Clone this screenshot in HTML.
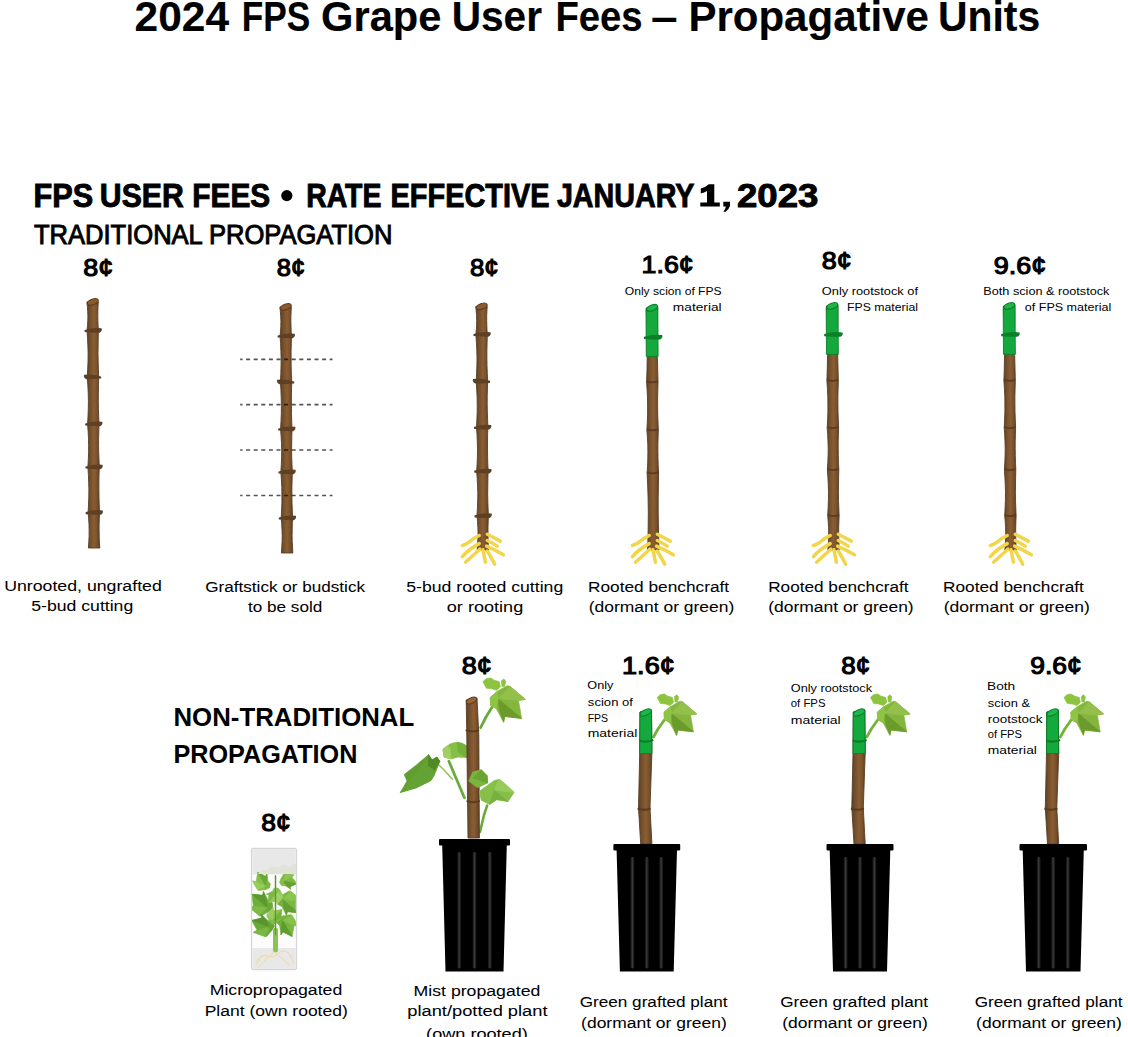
<!DOCTYPE html>
<html><head><meta charset="utf-8"><style>
html,body{margin:0;padding:0;background:#fff;}
svg{display:block;font-family:"Liberation Sans", sans-serif;}
</style></head><body>
<svg width="1128" height="1037" viewBox="0 0 1128 1037">
<defs><linearGradient id="bg" x1="0" y1="0" x2="1" y2="0"><stop offset="0" stop-color="#5c4027"/><stop offset="0.25" stop-color="#72502e"/><stop offset="0.55" stop-color="#8c5d30"/><stop offset="0.8" stop-color="#76512e"/><stop offset="1" stop-color="#5a3d24"/></linearGradient><linearGradient id="rib" x1="0" y1="0" x2="1" y2="0"><stop offset="0" stop-color="#000"/><stop offset="0.5" stop-color="#3a3a3a"/><stop offset="1" stop-color="#000"/></linearGradient></defs>
<path d="M98.3,302.0 L98.0,306.8 L97.9,311.5 L97.8,316.2 L97.9,321.0 L98.1,325.8 L98.4,330.5 L98.2,338.2 L98.1,346.0 L98.0,353.8 L98.2,361.5 L98.4,369.2 L98.7,377.0 L98.5,384.8 L98.4,392.7 L98.3,400.5 L98.4,408.3 L98.7,416.2 L99.0,424.0 L98.8,431.2 L98.6,438.3 L98.6,445.5 L98.7,452.7 L99.0,459.8 L99.3,467.0 L99.0,474.6 L98.9,482.2 L98.9,489.8 L99.0,497.4 L99.2,505.0 L99.5,512.6 L99.3,518.5 L99.1,524.4 L99.1,530.3 L99.2,536.2 L99.4,542.1 L99.8,548.0 L88.4,548.0 L88.8,542.1 L89.1,536.2 L89.1,530.3 L89.0,524.4 L88.6,518.5 L88.1,512.6 L88.5,505.0 L88.8,497.4 L88.9,489.8 L88.7,482.2 L88.4,474.6 L87.9,467.0 L88.3,459.8 L88.6,452.7 L88.6,445.5 L88.5,438.3 L88.1,431.2 L87.6,424.0 L88.0,416.2 L88.3,408.3 L88.4,400.5 L88.2,392.7 L87.8,384.8 L87.3,377.0 L87.7,369.2 L88.0,361.5 L88.1,353.8 L87.9,346.0 L87.5,338.2 L87.0,330.5 L87.5,325.8 L87.8,321.0 L87.9,316.2 L87.7,311.5 L87.4,306.8 L86.9,302.0Z" fill="url(#bg)" stroke="#5a3d24" stroke-width="0.9" stroke-linejoin="round"/>
<path d="M84.8,329.9 Q92.7,327.3 101.6,328.3 Q102.6,331.1 99.6,332.7 Q92.7,332.7 84.8,332.1 Q84.0,331.0 84.8,329.9Z" fill="#5e4026"/>
<path d="M100.9,376.4 Q93.0,373.8 84.1,374.8 Q83.1,377.6 86.1,379.2 Q93.0,379.2 100.9,378.6 Q101.7,377.5 100.9,376.4Z" fill="#5e4026"/>
<path d="M85.4,423.4 Q93.3,420.8 102.2,421.8 Q103.2,424.6 100.2,426.2 Q93.3,426.2 85.4,425.6 Q84.6,424.5 85.4,423.4Z" fill="#5e4026"/>
<path d="M85.7,466.4 Q93.6,463.8 102.5,464.8 Q103.5,467.6 100.5,469.2 Q93.6,469.2 85.7,468.6 Q84.9,467.5 85.7,466.4Z" fill="#5e4026"/>
<path d="M85.9,512.0 Q93.8,509.4 102.7,510.4 Q103.7,513.2 100.7,514.8 Q93.8,514.8 85.9,514.2 Q85.1,513.1 85.9,512.0Z" fill="#5e4026"/>
<ellipse cx="92.8" cy="302.0" rx="5.7" ry="2.8" transform="rotate(-20 92.6 302.0)" fill="#8e5a2b" stroke="#5a3d24" stroke-width="1.1"/>
<path d="M291.3,307.0 L291.1,311.8 L290.9,316.7 L290.9,321.5 L291.0,326.3 L291.2,331.2 L291.5,336.0 L291.3,343.7 L291.1,351.3 L291.1,359.0 L291.2,366.7 L291.4,374.3 L291.8,382.0 L291.5,389.8 L291.4,397.7 L291.4,405.5 L291.5,413.3 L291.7,421.2 L292.0,429.0 L291.8,436.2 L291.7,443.3 L291.6,450.5 L291.7,457.7 L292.0,464.8 L292.3,472.0 L292.1,479.7 L291.9,487.3 L291.9,495.0 L292.0,502.7 L292.3,510.3 L292.6,518.0 L292.3,523.8 L292.2,529.7 L292.1,535.5 L292.2,541.3 L292.5,547.2 L292.8,553.0 L281.4,553.0 L281.8,547.2 L282.1,541.3 L282.2,535.5 L282.0,529.7 L281.7,523.8 L281.2,518.0 L281.6,510.3 L281.9,502.7 L281.9,495.0 L281.8,487.3 L281.4,479.7 L280.9,472.0 L281.3,464.8 L281.6,457.7 L281.7,450.5 L281.5,443.3 L281.1,436.2 L280.6,429.0 L281.0,421.2 L281.3,413.3 L281.4,405.5 L281.2,397.7 L280.9,389.8 L280.4,382.0 L280.8,374.3 L281.0,366.7 L281.1,359.0 L280.9,351.3 L280.6,343.7 L280.1,336.0 L280.5,331.2 L280.8,326.3 L280.9,321.5 L280.7,316.7 L280.4,311.8 L279.9,307.0Z" fill="url(#bg)" stroke="#5a3d24" stroke-width="0.9" stroke-linejoin="round"/>
<path d="M277.9,335.4 Q285.8,332.8 294.7,333.8 Q295.7,336.6 292.7,338.2 Q285.8,338.2 277.9,337.6 Q277.1,336.5 277.9,335.4Z" fill="#5e4026"/>
<path d="M294.0,381.4 Q286.1,378.8 277.2,379.8 Q276.2,382.6 279.2,384.2 Q286.1,384.2 294.0,383.6 Q294.8,382.5 294.0,381.4Z" fill="#5e4026"/>
<path d="M278.4,428.4 Q286.3,425.8 295.2,426.8 Q296.2,429.6 293.2,431.2 Q286.3,431.2 278.4,430.6 Q277.6,429.5 278.4,428.4Z" fill="#5e4026"/>
<path d="M278.7,471.4 Q286.6,468.8 295.5,469.8 Q296.5,472.6 293.5,474.2 Q286.6,474.2 278.7,473.6 Q277.9,472.5 278.7,471.4Z" fill="#5e4026"/>
<path d="M279.0,517.4 Q286.9,514.8 295.8,515.8 Q296.8,518.6 293.8,520.2 Q286.9,520.2 279.0,519.6 Q278.2,518.5 279.0,517.4Z" fill="#5e4026"/>
<ellipse cx="285.8" cy="307.0" rx="5.7" ry="2.8" transform="rotate(-20 285.6 307.0)" fill="#8e5a2b" stroke="#5a3d24" stroke-width="1.1"/>
<path d="M487.2,306.5 L486.9,311.2 L486.7,315.8 L486.7,320.5 L486.8,325.2 L487.0,329.8 L487.3,334.5 L487.1,342.3 L486.9,350.1 L486.9,357.9 L487.0,365.7 L487.3,373.5 L487.6,381.3 L487.4,389.0 L487.2,396.6 L487.2,404.3 L487.3,412.0 L487.6,419.6 L487.9,427.3 L487.6,434.6 L487.5,441.9 L487.5,449.2 L487.6,456.6 L487.8,463.9 L488.1,471.2 L487.9,478.6 L487.8,486.1 L487.7,493.5 L487.8,500.9 L488.1,508.4 L488.4,515.8 L488.2,521.5 L488.0,527.2 L488.0,532.9 L488.1,538.6 L488.3,544.3 L488.6,550.0 L477.2,550.0 L477.6,544.3 L477.9,538.6 L478.0,532.9 L477.9,527.2 L477.5,521.5 L477.0,515.8 L477.4,508.4 L477.7,500.9 L477.8,493.5 L477.6,486.1 L477.2,478.6 L476.7,471.2 L477.1,463.9 L477.4,456.6 L477.5,449.2 L477.3,441.9 L477.0,434.6 L476.5,427.3 L476.9,419.6 L477.2,412.0 L477.2,404.3 L477.1,396.6 L476.7,389.0 L476.2,381.3 L476.6,373.5 L476.9,365.7 L477.0,357.9 L476.8,350.1 L476.4,342.3 L475.9,334.5 L476.3,329.8 L476.6,325.2 L476.7,320.5 L476.6,315.8 L476.2,311.2 L475.8,306.5Z" fill="url(#bg)" stroke="#5a3d24" stroke-width="0.9" stroke-linejoin="round"/>
<path d="M473.7,333.9 Q481.6,331.3 490.5,332.3 Q491.5,335.1 488.5,336.7 Q481.6,336.7 473.7,336.1 Q472.9,335.0 473.7,333.9Z" fill="#5e4026"/>
<path d="M489.8,380.7 Q481.9,378.1 473.0,379.1 Q472.0,381.9 475.0,383.5 Q481.9,383.5 489.8,382.9 Q490.6,381.8 489.8,380.7Z" fill="#5e4026"/>
<path d="M474.3,426.7 Q482.2,424.1 491.1,425.1 Q492.1,427.9 489.1,429.5 Q482.2,429.5 474.3,428.9 Q473.5,427.8 474.3,426.7Z" fill="#5e4026"/>
<path d="M474.5,470.6 Q482.4,468.0 491.3,469.0 Q492.3,471.8 489.3,473.4 Q482.4,473.4 474.5,472.8 Q473.7,471.7 474.5,470.6Z" fill="#5e4026"/>
<path d="M474.8,515.2 Q482.7,512.6 491.6,513.6 Q492.6,516.4 489.6,518.0 Q482.7,518.0 474.8,517.4 Q474.0,516.3 474.8,515.2Z" fill="#5e4026"/>
<ellipse cx="481.7" cy="306.5" rx="5.7" ry="2.8" transform="rotate(-20 481.5 306.5)" fill="#8e5a2b" stroke="#5a3d24" stroke-width="1.1"/>
<path d="M657.6,307.9 L657.4,320.2 L657.2,332.6 L657.2,344.9 L657.4,357.3 L657.7,369.6 L658.0,382.0 L657.8,390.0 L657.6,398.0 L657.6,406.0 L657.7,414.0 L658.0,422.0 L658.3,430.0 L658.1,437.2 L657.9,444.3 L657.9,451.5 L658.0,458.7 L658.2,465.8 L658.6,473.0 L658.4,485.8 L658.2,498.7 L658.2,511.5 L658.4,524.3 L658.7,537.2 L659.0,550.0 L647.6,550.0 L648.0,537.2 L648.2,524.3 L648.3,511.5 L648.1,498.7 L647.7,485.8 L647.1,473.0 L647.6,465.8 L647.8,458.7 L647.9,451.5 L647.8,444.3 L647.4,437.2 L646.9,430.0 L647.3,422.0 L647.6,414.0 L647.6,406.0 L647.5,398.0 L647.1,390.0 L646.6,382.0 L647.0,369.6 L647.2,357.3 L647.3,344.9 L647.1,332.6 L646.7,320.2 L646.2,307.9Z" fill="url(#bg)" stroke="#5a3d24" stroke-width="0.9" stroke-linejoin="round"/>
<path d="M646.6,381.2 Q652.3,383.5 658.0,381.2" stroke="#5a3d24" stroke-width="1.8" fill="none"/>
<path d="M646.9,429.2 Q652.6,431.5 658.3,429.2" stroke="#5a3d24" stroke-width="1.8" fill="none"/>
<path d="M647.1,472.2 Q652.9,474.5 658.6,472.2" stroke="#5a3d24" stroke-width="1.8" fill="none"/>
<path d="M646.0,309.4 L657.8,306.4 L658.1,356.4 L646.3,356.4Z" fill="#14a93c" stroke="#0b7f2a" stroke-width="0.9"/>
<path d="M644.1,336.7 Q652.0,334.1 662.2,335.1 Q663.2,337.9 660.2,339.5 Q652.0,339.5 644.1,338.9 Q643.3,337.8 644.1,336.7Z" fill="#0b7f2a"/>
<ellipse cx="652.1" cy="307.9" rx="5.7" ry="2.8" transform="rotate(-20 651.9 307.9)" fill="#1cb548" stroke="#0b7f2a" stroke-width="1.1"/>
<path d="M837.8,306.0 L837.7,318.4 L837.5,330.8 L837.5,343.2 L837.7,355.7 L838.0,368.1 L838.3,380.5 L838.1,388.4 L837.9,396.3 L837.9,404.1 L838.0,412.0 L838.3,419.9 L838.6,427.8 L838.4,434.8 L838.2,441.8 L838.2,448.8 L838.3,455.7 L838.5,462.7 L838.8,469.7 L838.6,477.4 L838.5,485.0 L838.4,492.7 L838.5,500.4 L838.8,508.0 L839.1,515.7 L838.9,521.4 L838.7,527.1 L838.7,532.9 L838.8,538.6 L839.0,544.3 L839.3,550.0 L827.9,550.0 L828.3,544.3 L828.6,538.6 L828.7,532.9 L828.6,527.1 L828.2,521.4 L827.7,515.7 L828.1,508.0 L828.4,500.4 L828.5,492.7 L828.3,485.0 L827.9,477.4 L827.4,469.7 L827.8,462.7 L828.1,455.7 L828.2,448.8 L828.0,441.8 L827.7,434.8 L827.2,427.8 L827.6,419.9 L827.9,412.0 L827.9,404.1 L827.8,396.3 L827.4,388.4 L826.9,380.5 L827.3,368.1 L827.5,355.7 L827.6,343.2 L827.4,330.8 L827.0,318.4 L826.4,306.0Z" fill="url(#bg)" stroke="#5a3d24" stroke-width="0.9" stroke-linejoin="round"/>
<path d="M826.9,379.7 Q832.6,382.0 838.3,379.7" stroke="#5a3d24" stroke-width="1.8" fill="none"/>
<path d="M827.2,427.0 Q832.9,429.3 838.6,427.0" stroke="#5a3d24" stroke-width="1.8" fill="none"/>
<path d="M827.4,468.9 Q833.1,471.2 838.8,468.9" stroke="#5a3d24" stroke-width="1.8" fill="none"/>
<path d="M827.7,514.9 Q833.4,517.2 839.1,514.9" stroke="#5a3d24" stroke-width="1.8" fill="none"/>
<path d="M826.2,307.5 L838.0,304.5 L838.3,354.3 L826.5,354.3Z" fill="#14a93c" stroke="#0b7f2a" stroke-width="0.9"/>
<path d="M824.4,334.0 Q832.3,331.4 842.5,332.4 Q843.5,335.2 840.5,336.8 Q832.3,336.8 824.4,336.2 Q823.6,335.1 824.4,334.0Z" fill="#0b7f2a"/>
<ellipse cx="832.3" cy="306.0" rx="5.7" ry="2.8" transform="rotate(-20 832.1 306.0)" fill="#1cb548" stroke="#0b7f2a" stroke-width="1.1"/>
<path d="M1014.8,306.0 L1014.7,318.4 L1014.5,330.8 L1014.5,343.2 L1014.7,355.7 L1015.0,368.1 L1015.3,380.5 L1015.1,388.4 L1014.9,396.3 L1014.9,404.1 L1015.0,412.0 L1015.3,419.9 L1015.6,427.8 L1015.4,434.8 L1015.2,441.8 L1015.2,448.8 L1015.3,455.7 L1015.5,462.7 L1015.8,469.7 L1015.6,477.4 L1015.5,485.0 L1015.4,492.7 L1015.5,500.4 L1015.8,508.0 L1016.1,515.7 L1015.9,521.4 L1015.7,527.1 L1015.7,532.9 L1015.8,538.6 L1016.0,544.3 L1016.3,550.0 L1004.9,550.0 L1005.3,544.3 L1005.6,538.6 L1005.7,532.9 L1005.6,527.1 L1005.2,521.4 L1004.7,515.7 L1005.1,508.0 L1005.4,500.4 L1005.5,492.7 L1005.3,485.0 L1004.9,477.4 L1004.4,469.7 L1004.8,462.7 L1005.1,455.7 L1005.2,448.8 L1005.0,441.8 L1004.7,434.8 L1004.2,427.8 L1004.6,419.9 L1004.9,412.0 L1004.9,404.1 L1004.8,396.3 L1004.4,388.4 L1003.9,380.5 L1004.3,368.1 L1004.5,355.7 L1004.6,343.2 L1004.4,330.8 L1004.0,318.4 L1003.4,306.0Z" fill="url(#bg)" stroke="#5a3d24" stroke-width="0.9" stroke-linejoin="round"/>
<path d="M1003.9,379.7 Q1009.6,382.0 1015.3,379.7" stroke="#5a3d24" stroke-width="1.8" fill="none"/>
<path d="M1004.2,427.0 Q1009.9,429.3 1015.6,427.0" stroke="#5a3d24" stroke-width="1.8" fill="none"/>
<path d="M1004.4,468.9 Q1010.1,471.2 1015.8,468.9" stroke="#5a3d24" stroke-width="1.8" fill="none"/>
<path d="M1004.7,514.9 Q1010.4,517.2 1016.1,514.9" stroke="#5a3d24" stroke-width="1.8" fill="none"/>
<path d="M1003.2,307.5 L1015.0,304.5 L1015.3,354.3 L1003.5,354.3Z" fill="#14a93c" stroke="#0b7f2a" stroke-width="0.9"/>
<path d="M1001.4,334.0 Q1009.3,331.4 1019.5,332.4 Q1020.5,335.2 1017.5,336.8 Q1009.3,336.8 1001.4,336.2 Q1000.6,335.1 1001.4,334.0Z" fill="#0b7f2a"/>
<ellipse cx="1009.3" cy="306.0" rx="5.7" ry="2.8" transform="rotate(-20 1009.1 306.0)" fill="#1cb548" stroke="#0b7f2a" stroke-width="1.1"/>
<path d="M479.2,535.5 Q473.6,538.0 470.5,541.0 T462.4,545.5" stroke="#f2d54b" stroke-width="3.5" fill="none" stroke-linecap="round"/>
<path d="M479.2,543.6 Q468.6,549.2 462.4,556.6" stroke="#f2d54b" stroke-width="3.5" fill="none" stroke-linecap="round"/>
<path d="M479.8,549.2 Q473.5,555.0 465.5,562.2" stroke="#f2d54b" stroke-width="3.5" fill="none" stroke-linecap="round"/>
<path d="M483.0,549.8 Q484.3,556.0 485.4,562.2" stroke="#f2d54b" stroke-width="3.5" fill="none" stroke-linecap="round"/>
<path d="M487.3,551.0 Q491.0,557.0 494.7,564.1" stroke="#f2d54b" stroke-width="3.5" fill="none" stroke-linecap="round"/>
<path d="M487.3,534.3 Q493.5,537.5 500.3,541.1" stroke="#f2d54b" stroke-width="3.5" fill="none" stroke-linecap="round"/>
<path d="M487.3,540.5 Q492.5,543.0 497.2,546.1" stroke="#f2d54b" stroke-width="3.5" fill="none" stroke-linecap="round"/>
<path d="M486.6,546.1 Q495.5,550.0 503.4,554.8" stroke="#f2d54b" stroke-width="3.5" fill="none" stroke-linecap="round"/>
<path d="M649.2,535.5 Q643.6,538.0 640.5,541.0 T632.4,545.5" stroke="#f2d54b" stroke-width="3.5" fill="none" stroke-linecap="round"/>
<path d="M649.2,543.6 Q638.6,549.2 632.4,556.6" stroke="#f2d54b" stroke-width="3.5" fill="none" stroke-linecap="round"/>
<path d="M649.8,549.2 Q643.5,555.0 635.5,562.2" stroke="#f2d54b" stroke-width="3.5" fill="none" stroke-linecap="round"/>
<path d="M653.0,549.8 Q654.3,556.0 655.4,562.2" stroke="#f2d54b" stroke-width="3.5" fill="none" stroke-linecap="round"/>
<path d="M657.3,551.0 Q661.0,557.0 664.7,564.1" stroke="#f2d54b" stroke-width="3.5" fill="none" stroke-linecap="round"/>
<path d="M657.3,534.3 Q663.5,537.5 670.3,541.1" stroke="#f2d54b" stroke-width="3.5" fill="none" stroke-linecap="round"/>
<path d="M657.3,540.5 Q662.5,543.0 667.2,546.1" stroke="#f2d54b" stroke-width="3.5" fill="none" stroke-linecap="round"/>
<path d="M656.6,546.1 Q665.5,550.0 673.4,554.8" stroke="#f2d54b" stroke-width="3.5" fill="none" stroke-linecap="round"/>
<path d="M830.2,535.5 Q824.6,538.0 821.5,541.0 T813.4,545.5" stroke="#f2d54b" stroke-width="3.5" fill="none" stroke-linecap="round"/>
<path d="M830.2,543.6 Q819.6,549.2 813.4,556.6" stroke="#f2d54b" stroke-width="3.5" fill="none" stroke-linecap="round"/>
<path d="M830.8,549.2 Q824.5,555.0 816.5,562.2" stroke="#f2d54b" stroke-width="3.5" fill="none" stroke-linecap="round"/>
<path d="M834.0,549.8 Q835.3,556.0 836.4,562.2" stroke="#f2d54b" stroke-width="3.5" fill="none" stroke-linecap="round"/>
<path d="M838.3,551.0 Q842.0,557.0 845.7,564.1" stroke="#f2d54b" stroke-width="3.5" fill="none" stroke-linecap="round"/>
<path d="M838.3,534.3 Q844.5,537.5 851.3,541.1" stroke="#f2d54b" stroke-width="3.5" fill="none" stroke-linecap="round"/>
<path d="M838.3,540.5 Q843.5,543.0 848.2,546.1" stroke="#f2d54b" stroke-width="3.5" fill="none" stroke-linecap="round"/>
<path d="M837.6,546.1 Q846.5,550.0 854.4,554.8" stroke="#f2d54b" stroke-width="3.5" fill="none" stroke-linecap="round"/>
<path d="M1007.2,535.5 Q1001.6,538.0 998.5,541.0 T990.4,545.5" stroke="#f2d54b" stroke-width="3.5" fill="none" stroke-linecap="round"/>
<path d="M1007.2,543.6 Q996.6,549.2 990.4,556.6" stroke="#f2d54b" stroke-width="3.5" fill="none" stroke-linecap="round"/>
<path d="M1007.8,549.2 Q1001.5,555.0 993.5,562.2" stroke="#f2d54b" stroke-width="3.5" fill="none" stroke-linecap="round"/>
<path d="M1011.0,549.8 Q1012.3,556.0 1013.4,562.2" stroke="#f2d54b" stroke-width="3.5" fill="none" stroke-linecap="round"/>
<path d="M1015.3,551.0 Q1019.0,557.0 1022.7,564.1" stroke="#f2d54b" stroke-width="3.5" fill="none" stroke-linecap="round"/>
<path d="M1015.3,534.3 Q1021.5,537.5 1028.3,541.1" stroke="#f2d54b" stroke-width="3.5" fill="none" stroke-linecap="round"/>
<path d="M1015.3,540.5 Q1020.5,543.0 1025.2,546.1" stroke="#f2d54b" stroke-width="3.5" fill="none" stroke-linecap="round"/>
<path d="M1014.6,546.1 Q1023.5,550.0 1031.4,554.8" stroke="#f2d54b" stroke-width="3.5" fill="none" stroke-linecap="round"/>
<line x1="240.2" y1="359.3" x2="332.5" y2="359.3" stroke="#000" stroke-opacity="0.68" stroke-width="1.7" stroke-dasharray="4 3.6" stroke-dashoffset="1.7"/>
<line x1="240.2" y1="404.6" x2="332.5" y2="404.6" stroke="#000" stroke-opacity="0.68" stroke-width="1.7" stroke-dasharray="4 3.6" stroke-dashoffset="1.7"/>
<line x1="240.2" y1="450" x2="332.5" y2="450" stroke="#000" stroke-opacity="0.68" stroke-width="1.7" stroke-dasharray="4 3.6" stroke-dashoffset="1.7"/>
<line x1="240.2" y1="495.5" x2="332.5" y2="495.5" stroke="#000" stroke-opacity="0.68" stroke-width="1.7" stroke-dasharray="4 3.6" stroke-dashoffset="1.7"/>
<path d="M464.4,797.8 L456.0,778.0 L448.9,761.3" stroke="#6aaa3a" stroke-width="2.8" fill="none" stroke-linecap="round" stroke-linejoin="round"/>
<path d="M452.4,779.3 L445.0,771.0 L439.0,765.0" stroke="#92c45a" stroke-width="1.5" fill="none" stroke-linecap="round" stroke-linejoin="round"/>
<path d="M480.0,832.0 L484.0,815.0 L487.1,805.6" stroke="#6aaa3a" stroke-width="2.6" fill="none" stroke-linecap="round" stroke-linejoin="round"/>
<path d="M480.6,727.7 L486.0,717.0 L492.0,707.3" stroke="#6aaa3a" stroke-width="2.8" fill="none" stroke-linecap="round" stroke-linejoin="round"/>
<path d="M400.4,792.4 L407.0,781.0 L404.2,774.5 L416.5,764.9 L428.5,754.7 L432.1,760.1 L436.9,757.1 L439.9,761.3 L434.5,774.5 L430.9,780.5 L416.5,787.7Z" fill="#5f9e2f" stroke="#5f9e2f" stroke-width="0.7" stroke-linejoin="round"/>
<path d="M400.4,792.4 L428.5,758.0 L434.5,774.5 L430.9,780.5 L416.5,787.7Z" fill="#64a333" stroke="#64a333" stroke-width="0.7" stroke-linejoin="round"/>
<path d="M428.5,754.7 L432.1,760.1 L436.9,757.1 L439.9,761.3 L434.5,770.0 L428.5,766.0Z" fill="#4f8a24" stroke="#4f8a24" stroke-width="0.7" stroke-linejoin="round"/>
<path d="M442.9,749.4 L446.5,746.4 L451.0,743.5 L457.2,742.2 L462.0,743.4 L467.0,746.0 L471.6,751.2 L466.8,757.7 L458.0,757.0 L451.2,759.0 L444.1,757.1Z" fill="#86bf45" stroke="#86bf45" stroke-width="0.7" stroke-linejoin="round"/>
<path d="M457.2,742.2 L462.0,743.4 L467.0,746.0 L471.6,751.2 L466.8,757.7 L458.0,752.0Z" fill="#74b03a" stroke="#74b03a" stroke-width="0.7" stroke-linejoin="round"/>
<path d="M442.9,749.4 L446.5,746.4 L450.0,748.0 L451.2,759.0 L444.1,757.1Z" fill="#a0d064" stroke="#a0d064" stroke-width="0.7" stroke-linejoin="round"/>
<path d="M477.0,698.0 L478.8,735.0 L479.4,838.0 L468.0,838.0 L466.8,735.0 L466.2,700.0Z" fill="url(#bg)" stroke="#5a3d24" stroke-width="0.9" stroke-linejoin="round"/>
<path d="M465.7,730.1 Q472.7,732.6 479.1,730.1" stroke="#5a3b21" stroke-width="2" fill="none"/>
<path d="M466.6,800.9 Q473.4,803.4 479.7,800.9" stroke="#5a3b21" stroke-width="2" fill="none"/>
<ellipse cx="471.6" cy="700.5" rx="5.5" ry="2.8" transform="rotate(-24 471.6 700.5)" fill="#9a6535" stroke="#5a3b21" stroke-width="1"/>
<path d="M468.6,781.1 L472.8,772.1 L481.2,769.7 L487.1,775.7 L487.7,782.9 L477.6,787.7Z" fill="#79b53f" stroke="#79b53f" stroke-width="0.7" stroke-linejoin="round"/>
<path d="M472.8,778.0 L481.2,769.7 L487.1,775.7 L487.7,782.9Z" fill="#6aa534" stroke="#6aa534" stroke-width="0.7" stroke-linejoin="round"/>
<path d="M479.4,791.2 L486.0,786.5 L494.3,780.5 L499.1,779.3 L504.0,783.0 L514.1,792.4 L508.1,801.4 L496.7,799.6 L489.5,804.4 L481.2,800.2Z" fill="#86c04a" stroke="#86c04a" stroke-width="0.7" stroke-linejoin="round"/>
<path d="M494.3,790.0 L499.1,779.3 L504.0,783.0 L514.1,792.4Z" fill="#98cc5a" stroke="#98cc5a" stroke-width="0.7" stroke-linejoin="round"/>
<path d="M494.3,790.0 L508.1,801.4 L496.7,799.6 L489.5,804.4Z" fill="#78b23e" stroke="#78b23e" stroke-width="0.7" stroke-linejoin="round"/>
<path d="M490.7,705.5 L490.2,697.5 L497.4,691.3 L507.3,685.7 L509.9,686.3 L525.3,699.3 L518.5,700.5 L521.6,718.4 L504.8,716.5 L503.6,722.2 L496.3,708.6Z" fill="#84b53c" stroke="#84b53c" stroke-width="0.7" stroke-linejoin="round"/>
<path d="M498.1,698.7 L521.6,718.4 L504.8,716.5 L503.6,722.2 L499.3,710.1Z" fill="#6b9c2b" stroke="#6b9c2b" stroke-width="0.7" stroke-linejoin="round"/>
<path d="M498.1,698.7 L509.9,686.3 L525.3,699.3 L518.5,700.5Z" fill="#92c04a" stroke="#92c04a" stroke-width="0.7" stroke-linejoin="round"/>
<path d="M490.7,705.5 L490.2,697.5 L497.4,691.3 L498.1,698.7 L496.3,708.6Z" fill="#8ec445" stroke="#8ec445" stroke-width="0.7" stroke-linejoin="round"/>
<path d="M482.9,681.7 L486.4,678.5 L490.7,678.0 L493.9,680.1 L499.3,681.7 L500.3,687.1 L496.6,690.3 L491.8,688.7 L486.4,688.2Z" fill="#8cc43f" stroke="#8cc43f" stroke-width="0.7" stroke-linejoin="round"/>
<path d="M501.4,680.7 L503.9,678.9 L505.8,681.2 L504.6,686.6 L501.9,686.6Z" fill="#8cc43f" stroke="#8cc43f" stroke-width="0.7" stroke-linejoin="round"/>
<path d="M653.5,737.0 L658.0,729.0 L664.5,719.7" stroke="#74b23a" stroke-width="2.8" fill="none" stroke-linecap="round" stroke-linejoin="round"/>
<path d="M651.5,710.0 L651.9,753.0 L650.0,808.0 L651.9,844.0 L640.7,844.0 L638.5,808.0 L639.7,753.0 L640.0,712.0Z" fill="url(#bg)" stroke="#5a3d24" stroke-width="0.9" stroke-linejoin="round"/>
<path d="M637.6,808.5 Q644.3,811.0 650.6,808.5" stroke="#5a3b21" stroke-width="2" fill="none"/>
<path d="M651.5,710.0 L651.9,753.0 L651.9,753.5 L639.7,753.5 L639.7,753.0 L640.0,712.0Z" fill="#14a93c" stroke="#0b7f2a" stroke-width="1" stroke-linejoin="round"/>
<path d="M639.3,740.5 Q645.8,743.0 653.3,740.0" stroke="#0b7f2a" stroke-width="2.2" fill="none"/>
<ellipse cx="645.8" cy="712.5" rx="6.0" ry="2.8" transform="rotate(-24 645.8 712.5)" fill="#1bb847" stroke="#0b7f2a" stroke-width="1"/>
<path d="M657.2,697.5 L660.5,694.5 L664.5,694.0 L667.5,696.0 L672.5,697.5 L673.5,702.5 L670.0,705.5 L665.5,704.0 L660.5,703.5Z" fill="#8cc43f" stroke="#8cc43f" stroke-width="0.7" stroke-linejoin="round"/>
<path d="M674.5,696.5 L676.8,694.8 L678.6,697.0 L677.5,702.0 L675.0,702.0Z" fill="#8cc43f" stroke="#8cc43f" stroke-width="0.7" stroke-linejoin="round"/>
<path d="M664.5,719.7 L664.0,712.2 L670.8,706.4 L680.0,701.2 L682.4,701.8 L696.8,713.9 L690.5,715.0 L693.4,731.8 L677.7,730.0 L676.6,735.3 L669.7,722.6Z" fill="#84b53c" stroke="#84b53c" stroke-width="0.7" stroke-linejoin="round"/>
<path d="M671.4,713.3 L693.4,731.8 L677.7,730.0 L676.6,735.3 L672.5,724.0Z" fill="#6b9c2b" stroke="#6b9c2b" stroke-width="0.7" stroke-linejoin="round"/>
<path d="M671.4,713.3 L682.4,701.8 L696.8,713.9 L690.5,715.0Z" fill="#92c04a" stroke="#92c04a" stroke-width="0.7" stroke-linejoin="round"/>
<path d="M664.5,719.7 L664.0,712.2 L670.8,706.4 L671.4,713.3 L669.7,722.6Z" fill="#8ec445" stroke="#8ec445" stroke-width="0.7" stroke-linejoin="round"/>
<path d="M866.8,737.0 L871.3,729.0 L877.8,719.7" stroke="#74b23a" stroke-width="2.8" fill="none" stroke-linecap="round" stroke-linejoin="round"/>
<path d="M864.8,710.0 L865.2,753.0 L863.3,808.0 L865.2,844.0 L854.0,844.0 L851.8,808.0 L853.0,753.0 L853.3,712.0Z" fill="url(#bg)" stroke="#5a3d24" stroke-width="0.9" stroke-linejoin="round"/>
<path d="M850.9,808.5 Q857.6,811.0 863.9,808.5" stroke="#5a3b21" stroke-width="2" fill="none"/>
<path d="M864.8,710.0 L865.2,753.0 L865.2,753.5 L853.0,753.5 L853.0,753.0 L853.3,712.0Z" fill="#14a93c" stroke="#0b7f2a" stroke-width="1" stroke-linejoin="round"/>
<path d="M852.6,740.5 Q859.1,743.0 866.6,740.0" stroke="#0b7f2a" stroke-width="2.2" fill="none"/>
<ellipse cx="859.1" cy="712.5" rx="6.0" ry="2.8" transform="rotate(-24 859.1 712.5)" fill="#1bb847" stroke="#0b7f2a" stroke-width="1"/>
<path d="M870.5,697.5 L873.8,694.5 L877.8,694.0 L880.8,696.0 L885.8,697.5 L886.8,702.5 L883.3,705.5 L878.8,704.0 L873.8,703.5Z" fill="#8cc43f" stroke="#8cc43f" stroke-width="0.7" stroke-linejoin="round"/>
<path d="M887.8,696.5 L890.1,694.8 L891.9,697.0 L890.8,702.0 L888.3,702.0Z" fill="#8cc43f" stroke="#8cc43f" stroke-width="0.7" stroke-linejoin="round"/>
<path d="M877.8,719.7 L877.3,712.2 L884.1,706.4 L893.3,701.2 L895.7,701.8 L910.1,713.9 L903.8,715.0 L906.7,731.8 L891.0,730.0 L889.9,735.3 L883.0,722.6Z" fill="#84b53c" stroke="#84b53c" stroke-width="0.7" stroke-linejoin="round"/>
<path d="M884.7,713.3 L906.7,731.8 L891.0,730.0 L889.9,735.3 L885.8,724.0Z" fill="#6b9c2b" stroke="#6b9c2b" stroke-width="0.7" stroke-linejoin="round"/>
<path d="M884.7,713.3 L895.7,701.8 L910.1,713.9 L903.8,715.0Z" fill="#92c04a" stroke="#92c04a" stroke-width="0.7" stroke-linejoin="round"/>
<path d="M877.8,719.7 L877.3,712.2 L884.1,706.4 L884.7,713.3 L883.0,722.6Z" fill="#8ec445" stroke="#8ec445" stroke-width="0.7" stroke-linejoin="round"/>
<path d="M1060.3,737.0 L1064.8,729.0 L1071.3,719.7" stroke="#74b23a" stroke-width="2.8" fill="none" stroke-linecap="round" stroke-linejoin="round"/>
<path d="M1058.3,710.0 L1058.7,753.0 L1056.8,808.0 L1058.7,844.0 L1047.5,844.0 L1045.3,808.0 L1046.5,753.0 L1046.8,712.0Z" fill="url(#bg)" stroke="#5a3d24" stroke-width="0.9" stroke-linejoin="round"/>
<path d="M1044.4,808.5 Q1051.1,811.0 1057.4,808.5" stroke="#5a3b21" stroke-width="2" fill="none"/>
<path d="M1058.3,710.0 L1058.7,753.0 L1058.7,753.5 L1046.5,753.5 L1046.5,753.0 L1046.8,712.0Z" fill="#14a93c" stroke="#0b7f2a" stroke-width="1" stroke-linejoin="round"/>
<path d="M1046.1,740.5 Q1052.6,743.0 1060.1,740.0" stroke="#0b7f2a" stroke-width="2.2" fill="none"/>
<ellipse cx="1052.6" cy="712.5" rx="6.0" ry="2.8" transform="rotate(-24 1052.6 712.5)" fill="#1bb847" stroke="#0b7f2a" stroke-width="1"/>
<path d="M1064.0,697.5 L1067.3,694.5 L1071.3,694.0 L1074.3,696.0 L1079.3,697.5 L1080.3,702.5 L1076.8,705.5 L1072.3,704.0 L1067.3,703.5Z" fill="#8cc43f" stroke="#8cc43f" stroke-width="0.7" stroke-linejoin="round"/>
<path d="M1081.3,696.5 L1083.6,694.8 L1085.4,697.0 L1084.3,702.0 L1081.8,702.0Z" fill="#8cc43f" stroke="#8cc43f" stroke-width="0.7" stroke-linejoin="round"/>
<path d="M1071.3,719.7 L1070.8,712.2 L1077.6,706.4 L1086.8,701.2 L1089.2,701.8 L1103.6,713.9 L1097.3,715.0 L1100.2,731.8 L1084.5,730.0 L1083.4,735.3 L1076.5,722.6Z" fill="#84b53c" stroke="#84b53c" stroke-width="0.7" stroke-linejoin="round"/>
<path d="M1078.2,713.3 L1100.2,731.8 L1084.5,730.0 L1083.4,735.3 L1079.3,724.0Z" fill="#6b9c2b" stroke="#6b9c2b" stroke-width="0.7" stroke-linejoin="round"/>
<path d="M1078.2,713.3 L1089.2,701.8 L1103.6,713.9 L1097.3,715.0Z" fill="#92c04a" stroke="#92c04a" stroke-width="0.7" stroke-linejoin="round"/>
<path d="M1071.3,719.7 L1070.8,712.2 L1077.6,706.4 L1078.2,713.3 L1076.5,722.6Z" fill="#8ec445" stroke="#8ec445" stroke-width="0.7" stroke-linejoin="round"/>
<rect x="439" y="839" width="71" height="6.5" rx="1" fill="#000"/>
<path d="M442.2,845 L506.8,845 L503.5,971.6 L445.5,971.6Z" fill="#000"/>
<rect x="456.8" y="852" width="4.8" height="116.60000000000002" rx="2.4" fill="url(#rib)"/>
<rect x="472.1" y="852" width="4.8" height="116.60000000000002" rx="2.4" fill="url(#rib)"/>
<rect x="487.4" y="852" width="4.8" height="116.60000000000002" rx="2.4" fill="url(#rib)"/>
<rect x="613.4" y="844" width="66.80000000000007" height="6.5" rx="1" fill="#000"/>
<path d="M616.6,850 L677.0,850 L673.7,971.6 L619.9,971.6Z" fill="#000"/>
<rect x="630.0" y="857" width="4.8" height="111.60000000000002" rx="2.4" fill="url(#rib)"/>
<rect x="644.4" y="857" width="4.8" height="111.60000000000002" rx="2.4" fill="url(#rib)"/>
<rect x="658.8" y="857" width="4.8" height="111.60000000000002" rx="2.4" fill="url(#rib)"/>
<rect x="826.5" y="844" width="67.0" height="6.5" rx="1" fill="#000"/>
<path d="M829.7,850 L890.3,850 L887.0,971.6 L833.0,971.6Z" fill="#000"/>
<rect x="843.2" y="857" width="4.8" height="111.60000000000002" rx="2.4" fill="url(#rib)"/>
<rect x="857.6" y="857" width="4.8" height="111.60000000000002" rx="2.4" fill="url(#rib)"/>
<rect x="872.0" y="857" width="4.8" height="111.60000000000002" rx="2.4" fill="url(#rib)"/>
<rect x="1019.5" y="844" width="67.5" height="6.5" rx="1" fill="#000"/>
<path d="M1022.7,850 L1083.8,850 L1080.5,971.6 L1026.0,971.6Z" fill="#000"/>
<rect x="1036.3" y="857" width="4.8" height="111.60000000000002" rx="2.4" fill="url(#rib)"/>
<rect x="1050.8" y="857" width="4.8" height="111.60000000000002" rx="2.4" fill="url(#rib)"/>
<rect x="1065.4" y="857" width="4.8" height="111.60000000000002" rx="2.4" fill="url(#rib)"/>
<defs><clipPath id="tube"><rect x="252.2" y="849.2" width="43.6" height="119.6"/></clipPath></defs>
<rect x="251.5" y="848.5" width="45" height="121" rx="2" fill="#fcfcfc" stroke="#d6d6d6" stroke-width="1.3"/>
<rect x="252.2" y="849.2" width="43.6" height="25.3" fill="#e8e8e8"/>
<rect x="252.2" y="948" width="43.6" height="21" fill="#e8e8e8"/>
<g clip-path="url(#tube)">
<path d="M256,875 L296,875 L296,938 L253,938 Z" fill="none"/>
<path d="M275.5,937.0 L275.5,876.0" stroke="#5a9a2c" stroke-width="1.3" fill="none" stroke-linecap="round" stroke-linejoin="round"/>
<g transform="translate(262,882) rotate(200) scale(0.55) translate(-680,-718)"><path d="M664.5,719.7 L664.0,712.2 L670.8,706.4 L680.0,701.2 L682.4,701.8 L696.8,713.9 L690.5,715.0 L693.4,731.8 L677.7,730.0 L676.6,735.3 L669.7,722.6Z" fill="#86c04a" stroke="#86c04a" stroke-width="0.7" stroke-linejoin="round"/>
<path d="M671.4,713.3 L693.4,731.8 L677.7,730.0 L676.6,735.3 L672.5,724.0Z" fill="#6aa836" stroke="#6aa836" stroke-width="0.7" stroke-linejoin="round"/>
<path d="M671.4,713.3 L682.4,701.8 L696.8,713.9 L690.5,715.0Z" fill="#96cc58" stroke="#96cc58" stroke-width="0.7" stroke-linejoin="round"/>
<path d="M664.5,719.7 L664.0,712.2 L670.8,706.4 L671.4,713.3 L669.7,722.6Z" fill="#7ab842" stroke="#7ab842" stroke-width="0.7" stroke-linejoin="round"/></g>
<g transform="translate(288,881) rotate(-30) scale(0.5) translate(-680,-718)"><path d="M664.5,719.7 L664.0,712.2 L670.8,706.4 L680.0,701.2 L682.4,701.8 L696.8,713.9 L690.5,715.0 L693.4,731.8 L677.7,730.0 L676.6,735.3 L669.7,722.6Z" fill="#7cb843" stroke="#7cb843" stroke-width="0.7" stroke-linejoin="round"/>
<path d="M671.4,713.3 L693.4,731.8 L677.7,730.0 L676.6,735.3 L672.5,724.0Z" fill="#64a032" stroke="#64a032" stroke-width="0.7" stroke-linejoin="round"/>
<path d="M671.4,713.3 L682.4,701.8 L696.8,713.9 L690.5,715.0Z" fill="#8cc452" stroke="#8cc452" stroke-width="0.7" stroke-linejoin="round"/>
<path d="M664.5,719.7 L664.0,712.2 L670.8,706.4 L671.4,713.3 L669.7,722.6Z" fill="#86c04a" stroke="#86c04a" stroke-width="0.7" stroke-linejoin="round"/></g>
<g transform="translate(261,904) rotate(180) scale(0.72) translate(-680,-718)"><path d="M664.5,719.7 L664.0,712.2 L670.8,706.4 L680.0,701.2 L682.4,701.8 L696.8,713.9 L690.5,715.0 L693.4,731.8 L677.7,730.0 L676.6,735.3 L669.7,722.6Z" fill="#6fae3c" stroke="#6fae3c" stroke-width="0.7" stroke-linejoin="round"/>
<path d="M671.4,713.3 L693.4,731.8 L677.7,730.0 L676.6,735.3 L672.5,724.0Z" fill="#5a9a2e" stroke="#5a9a2e" stroke-width="0.7" stroke-linejoin="round"/>
<path d="M671.4,713.3 L682.4,701.8 L696.8,713.9 L690.5,715.0Z" fill="#7fbb46" stroke="#7fbb46" stroke-width="0.7" stroke-linejoin="round"/>
<path d="M664.5,719.7 L664.0,712.2 L670.8,706.4 L671.4,713.3 L669.7,722.6Z" fill="#6aa838" stroke="#6aa838" stroke-width="0.7" stroke-linejoin="round"/></g>
<g transform="translate(289,903) rotate(0) scale(0.72) translate(-680,-718)"><path d="M664.5,719.7 L664.0,712.2 L670.8,706.4 L680.0,701.2 L682.4,701.8 L696.8,713.9 L690.5,715.0 L693.4,731.8 L677.7,730.0 L676.6,735.3 L669.7,722.6Z" fill="#7ab842" stroke="#7ab842" stroke-width="0.7" stroke-linejoin="round"/>
<path d="M671.4,713.3 L693.4,731.8 L677.7,730.0 L676.6,735.3 L672.5,724.0Z" fill="#62a032" stroke="#62a032" stroke-width="0.7" stroke-linejoin="round"/>
<path d="M671.4,713.3 L682.4,701.8 L696.8,713.9 L690.5,715.0Z" fill="#8ac64e" stroke="#8ac64e" stroke-width="0.7" stroke-linejoin="round"/>
<path d="M664.5,719.7 L664.0,712.2 L670.8,706.4 L671.4,713.3 L669.7,722.6Z" fill="#72b03e" stroke="#72b03e" stroke-width="0.7" stroke-linejoin="round"/></g>
<g transform="translate(263,926) rotate(160) scale(0.66) translate(-680,-718)"><path d="M664.5,719.7 L664.0,712.2 L670.8,706.4 L680.0,701.2 L682.4,701.8 L696.8,713.9 L690.5,715.0 L693.4,731.8 L677.7,730.0 L676.6,735.3 L669.7,722.6Z" fill="#6aa838" stroke="#6aa838" stroke-width="0.7" stroke-linejoin="round"/>
<path d="M671.4,713.3 L693.4,731.8 L677.7,730.0 L676.6,735.3 L672.5,724.0Z" fill="#58962c" stroke="#58962c" stroke-width="0.7" stroke-linejoin="round"/>
<path d="M671.4,713.3 L682.4,701.8 L696.8,713.9 L690.5,715.0Z" fill="#7ab842" stroke="#7ab842" stroke-width="0.7" stroke-linejoin="round"/>
<path d="M664.5,719.7 L664.0,712.2 L670.8,706.4 L671.4,713.3 L669.7,722.6Z" fill="#66a436" stroke="#66a436" stroke-width="0.7" stroke-linejoin="round"/></g>
<g transform="translate(287,925) rotate(20) scale(0.66) translate(-680,-718)"><path d="M664.5,719.7 L664.0,712.2 L670.8,706.4 L680.0,701.2 L682.4,701.8 L696.8,713.9 L690.5,715.0 L693.4,731.8 L677.7,730.0 L676.6,735.3 L669.7,722.6Z" fill="#78b640" stroke="#78b640" stroke-width="0.7" stroke-linejoin="round"/>
<path d="M671.4,713.3 L693.4,731.8 L677.7,730.0 L676.6,735.3 L672.5,724.0Z" fill="#5e9c30" stroke="#5e9c30" stroke-width="0.7" stroke-linejoin="round"/>
<path d="M671.4,713.3 L682.4,701.8 L696.8,713.9 L690.5,715.0Z" fill="#88c24c" stroke="#88c24c" stroke-width="0.7" stroke-linejoin="round"/>
<path d="M664.5,719.7 L664.0,712.2 L670.8,706.4 L671.4,713.3 L669.7,722.6Z" fill="#70ae3c" stroke="#70ae3c" stroke-width="0.7" stroke-linejoin="round"/></g>
<g transform="translate(275,896) rotate(90) scale(0.5) translate(-680,-718)"><path d="M664.5,719.7 L664.0,712.2 L670.8,706.4 L680.0,701.2 L682.4,701.8 L696.8,713.9 L690.5,715.0 L693.4,731.8 L677.7,730.0 L676.6,735.3 L669.7,722.6Z" fill="#92c858" stroke="#92c858" stroke-width="0.7" stroke-linejoin="round"/>
<path d="M671.4,713.3 L693.4,731.8 L677.7,730.0 L676.6,735.3 L672.5,724.0Z" fill="#7ab842" stroke="#7ab842" stroke-width="0.7" stroke-linejoin="round"/>
<path d="M671.4,713.3 L682.4,701.8 L696.8,713.9 L690.5,715.0Z" fill="#a2d068" stroke="#a2d068" stroke-width="0.7" stroke-linejoin="round"/>
<path d="M664.5,719.7 L664.0,712.2 L670.8,706.4 L671.4,713.3 L669.7,722.6Z" fill="#86c04a" stroke="#86c04a" stroke-width="0.7" stroke-linejoin="round"/></g>
<g transform="translate(275,916) rotate(-90) scale(0.5) translate(-680,-718)"><path d="M664.5,719.7 L664.0,712.2 L670.8,706.4 L680.0,701.2 L682.4,701.8 L696.8,713.9 L690.5,715.0 L693.4,731.8 L677.7,730.0 L676.6,735.3 L669.7,722.6Z" fill="#8cc452" stroke="#8cc452" stroke-width="0.7" stroke-linejoin="round"/>
<path d="M671.4,713.3 L693.4,731.8 L677.7,730.0 L676.6,735.3 L672.5,724.0Z" fill="#74b23e" stroke="#74b23e" stroke-width="0.7" stroke-linejoin="round"/>
<path d="M671.4,713.3 L682.4,701.8 L696.8,713.9 L690.5,715.0Z" fill="#9ccc62" stroke="#9ccc62" stroke-width="0.7" stroke-linejoin="round"/>
<path d="M664.5,719.7 L664.0,712.2 L670.8,706.4 L671.4,713.3 L669.7,722.6Z" fill="#80bc48" stroke="#80bc48" stroke-width="0.7" stroke-linejoin="round"/></g>
<path d="M275.5,950.0 L275.5,930.0" stroke="#8cc452" stroke-width="5" fill="none" stroke-linecap="round" stroke-linejoin="round"/>
<path d="M275.5,935.0 L275.5,876.0" stroke="#5a9a2c" stroke-width="1.2" fill="none" stroke-linecap="round" stroke-linejoin="round"/>
</g>
<path d="M258,874 q4,-6 9,-4 q5,-6 11,-2 q6,-6 12,0 q4,-6 6,-4 L296,874 Z" fill="#dfe3d8"/>
<path d="M256,962 q5,-8 12,-6 q6,3 12,-4 q6,-4 12,6 M258,968 q8,-10 16,-16 q8,6 16,14 M262,955 q-3,6 -6,10 M288,952 q4,6 6,12" stroke="#f0dca0" stroke-width="1" fill="none"/>
<text x="134.60" y="30.6" font-size="42.7" font-weight="bold" textLength="94.40" lengthAdjust="spacingAndGlyphs" stroke="#000" stroke-width="0.15">2024</text>
<text x="241.65" y="30.6" font-size="42.7" font-weight="bold" textLength="68.50" lengthAdjust="spacingAndGlyphs" stroke="#000" stroke-width="0.15">FPS</text>
<text x="321.10" y="30.6" font-size="42.7" font-weight="bold" textLength="120.30" lengthAdjust="spacingAndGlyphs" stroke="#000" stroke-width="0.15">Grape</text>
<text x="451.65" y="30.6" font-size="42.7" font-weight="bold" textLength="90.30" lengthAdjust="spacingAndGlyphs" stroke="#000" stroke-width="0.15">User</text>
<text x="555.40" y="30.6" font-size="42.7" font-weight="bold" textLength="87.25" lengthAdjust="spacingAndGlyphs" stroke="#000" stroke-width="0.15">Fees</text>
<text x="651.10" y="30.6" font-size="42.7" font-weight="bold" textLength="26.55" lengthAdjust="spacingAndGlyphs" stroke="#000" stroke-width="0.15">–</text>
<text x="688.45" y="30.6" font-size="42.7" font-weight="bold" textLength="240.45" lengthAdjust="spacingAndGlyphs" stroke="#000" stroke-width="0.15">Propagative</text>
<text x="937.90" y="30.6" font-size="42.7" font-weight="bold" textLength="102.25" lengthAdjust="spacingAndGlyphs" stroke="#000" stroke-width="0.15">Units</text>
<text x="33.60" y="206.5" font-size="32.3" font-weight="bold" textLength="59.60" lengthAdjust="spacingAndGlyphs" stroke="#000" stroke-width="0.9">FPS</text>
<text x="99.85" y="206.5" font-size="32.3" font-weight="bold" textLength="83.90" lengthAdjust="spacingAndGlyphs" stroke="#000" stroke-width="0.9">USER</text>
<text x="192.35" y="206.5" font-size="32.3" font-weight="bold" textLength="77.93" lengthAdjust="spacingAndGlyphs" stroke="#000" stroke-width="0.9">FEES</text>
<text x="306.14" y="206.5" font-size="32.3" font-weight="bold" textLength="75.31" lengthAdjust="spacingAndGlyphs" stroke="#000" stroke-width="0.9">RATE</text>
<text x="390.60" y="206.5" font-size="32.3" font-weight="bold" textLength="158.98" lengthAdjust="spacingAndGlyphs" stroke="#000" stroke-width="0.9">EFFECTIVE</text>
<text x="556.92" y="206.5" font-size="32.3" font-weight="bold" textLength="137.54" lengthAdjust="spacingAndGlyphs" stroke="#000" stroke-width="0.9">JANUARY</text>
<text x="736.96" y="206.5" font-size="32.3" font-weight="bold" textLength="81.36" lengthAdjust="spacingAndGlyphs" stroke="#000" stroke-width="0.9">2023</text>
<text x="34.00" y="244" font-size="26.8" font-weight="normal" textLength="358.40" lengthAdjust="spacingAndGlyphs" stroke="#000" stroke-width="0.95">TRADITIONAL PROPAGATION</text>
<text x="83.30" y="276" font-size="24" font-weight="normal" textLength="29.90" lengthAdjust="spacingAndGlyphs" stroke="#000" stroke-width="1.1">8¢</text>
<text x="276.80" y="276" font-size="24" font-weight="normal" textLength="28.40" lengthAdjust="spacingAndGlyphs" stroke="#000" stroke-width="1.1">8¢</text>
<text x="470.05" y="276" font-size="24" font-weight="normal" textLength="28.65" lengthAdjust="spacingAndGlyphs" stroke="#000" stroke-width="1.1">8¢</text>
<text x="641.60" y="273" font-size="24" font-weight="normal" textLength="52.10" lengthAdjust="spacingAndGlyphs" stroke="#000" stroke-width="1.1">1.6¢</text>
<text x="821.80" y="269.4" font-size="24" font-weight="normal" textLength="29.90" lengthAdjust="spacingAndGlyphs" stroke="#000" stroke-width="1.1">8¢</text>
<text x="993.76" y="273.6" font-size="24" font-weight="normal" textLength="52.44" lengthAdjust="spacingAndGlyphs" stroke="#000" stroke-width="1.1">9.6¢</text>
<text x="624.76" y="295" font-size="11.5" font-weight="normal" textLength="96.94" lengthAdjust="spacingAndGlyphs">Only scion of FPS</text>
<text x="672.84" y="311.2" font-size="11.5" font-weight="normal" textLength="48.82" lengthAdjust="spacingAndGlyphs">material</text>
<text x="821.80" y="295" font-size="11.5" font-weight="normal" textLength="96.20" lengthAdjust="spacingAndGlyphs">Only rootstock of</text>
<text x="847.05" y="310.6" font-size="11.5" font-weight="normal" textLength="70.90" lengthAdjust="spacingAndGlyphs">FPS material</text>
<text x="983.30" y="295.3" font-size="11.5" font-weight="normal" textLength="126.16" lengthAdjust="spacingAndGlyphs">Both scion &amp; rootstock</text>
<text x="1024.76" y="311.1" font-size="11.5" font-weight="normal" textLength="86.52" lengthAdjust="spacingAndGlyphs">of FPS material</text>
<text x="4.18" y="590.8" font-size="15.5" font-weight="normal" textLength="157.60" lengthAdjust="spacingAndGlyphs" stroke="#000" stroke-width="0.05">Unrooted, ungrafted</text>
<text x="31.30" y="611.3" font-size="15.5" font-weight="normal" textLength="101.90" lengthAdjust="spacingAndGlyphs" stroke="#000" stroke-width="0.05">5-bud cutting</text>
<text x="205.30" y="591.7" font-size="15.5" font-weight="normal" textLength="159.70" lengthAdjust="spacingAndGlyphs" stroke="#000" stroke-width="0.05">Graftstick or budstick</text>
<text x="248.00" y="611.7" font-size="15.5" font-weight="normal" textLength="74.28" lengthAdjust="spacingAndGlyphs" stroke="#000" stroke-width="0.05">to be sold</text>
<text x="406.30" y="591.7" font-size="15.5" font-weight="normal" textLength="156.90" lengthAdjust="spacingAndGlyphs" stroke="#000" stroke-width="0.05">5-bud rooted cutting</text>
<text x="446.80" y="611.7" font-size="15.5" font-weight="normal" textLength="76.40" lengthAdjust="spacingAndGlyphs" stroke="#000" stroke-width="0.05">or rooting</text>
<text x="588.02" y="591.7" font-size="15.5" font-weight="normal" textLength="141.06" lengthAdjust="spacingAndGlyphs" stroke="#000" stroke-width="0.05">Rooted benchcraft</text>
<text x="588.72" y="611.7" font-size="15.5" font-weight="normal" textLength="145.56" lengthAdjust="spacingAndGlyphs" stroke="#000" stroke-width="0.05">(dormant or green)</text>
<text x="768.22" y="591.7" font-size="15.5" font-weight="normal" textLength="140.36" lengthAdjust="spacingAndGlyphs" stroke="#000" stroke-width="0.05">Rooted benchcraft</text>
<text x="768.22" y="611.7" font-size="15.5" font-weight="normal" textLength="145.48" lengthAdjust="spacingAndGlyphs" stroke="#000" stroke-width="0.05">(dormant or green)</text>
<text x="943.02" y="591.7" font-size="15.5" font-weight="normal" textLength="140.90" lengthAdjust="spacingAndGlyphs" stroke="#000" stroke-width="0.05">Rooted benchcraft</text>
<text x="943.72" y="611.7" font-size="15.5" font-weight="normal" textLength="146.06" lengthAdjust="spacingAndGlyphs" stroke="#000" stroke-width="0.05">(dormant or green)</text>
<text x="173.48" y="726.3" font-size="26.2" font-weight="bold" textLength="240.80" lengthAdjust="spacingAndGlyphs">NON-TRADITIONAL</text>
<text x="173.48" y="763" font-size="26.2" font-weight="bold" textLength="183.92" lengthAdjust="spacingAndGlyphs">PROPAGATION</text>
<text x="261.30" y="831" font-size="24" font-weight="normal" textLength="29.40" lengthAdjust="spacingAndGlyphs" stroke="#000" stroke-width="1.1">8¢</text>
<text x="461.80" y="673.75" font-size="24" font-weight="normal" textLength="30.06" lengthAdjust="spacingAndGlyphs" stroke="#000" stroke-width="1.1">8¢</text>
<text x="622.10" y="674" font-size="24" font-weight="normal" textLength="52.60" lengthAdjust="spacingAndGlyphs" stroke="#000" stroke-width="1.1">1.6¢</text>
<text x="841.34" y="673.75" font-size="24" font-weight="normal" textLength="28.90" lengthAdjust="spacingAndGlyphs" stroke="#000" stroke-width="1.1">8¢</text>
<text x="1030.30" y="674" font-size="24" font-weight="normal" textLength="51.40" lengthAdjust="spacingAndGlyphs" stroke="#000" stroke-width="1.1">9.6¢</text>
<text x="587.30" y="689.2" font-size="11.5" font-weight="normal" textLength="26.08" lengthAdjust="spacingAndGlyphs">Only</text>
<text x="587.88" y="705.7" font-size="11.5" font-weight="normal" textLength="45.12" lengthAdjust="spacingAndGlyphs">scion of</text>
<text x="587.68" y="721.6" font-size="11.5" font-weight="normal" textLength="20.44" lengthAdjust="spacingAndGlyphs">FPS</text>
<text x="587.68" y="736.8" font-size="11.5" font-weight="normal" textLength="49.56" lengthAdjust="spacingAndGlyphs">material</text>
<text x="790.80" y="691.5" font-size="11.5" font-weight="normal" textLength="81.24" lengthAdjust="spacingAndGlyphs">Only rootstock</text>
<text x="790.80" y="707.1" font-size="11.5" font-weight="normal" textLength="34.65" lengthAdjust="spacingAndGlyphs">of FPS</text>
<text x="790.80" y="723.75" font-size="11.5" font-weight="normal" textLength="49.90" lengthAdjust="spacingAndGlyphs">material</text>
<text x="987.10" y="690.25" font-size="11.5" font-weight="normal" textLength="28.14" lengthAdjust="spacingAndGlyphs">Both</text>
<text x="987.80" y="706.5" font-size="11.5" font-weight="normal" textLength="42.20" lengthAdjust="spacingAndGlyphs">scion &amp;</text>
<text x="987.80" y="722.5" font-size="11.5" font-weight="normal" textLength="54.70" lengthAdjust="spacingAndGlyphs">rootstock</text>
<text x="987.80" y="737.5" font-size="11.5" font-weight="normal" textLength="34.15" lengthAdjust="spacingAndGlyphs">of FPS</text>
<text x="987.80" y="753.5" font-size="11.5" font-weight="normal" textLength="49.15" lengthAdjust="spacingAndGlyphs">material</text>
<text x="209.68" y="994.7" font-size="15.5" font-weight="normal" textLength="132.60" lengthAdjust="spacingAndGlyphs" stroke="#000" stroke-width="0.05">Micropropagated</text>
<text x="204.68" y="1015.5" font-size="15.5" font-weight="normal" textLength="143.14" lengthAdjust="spacingAndGlyphs" stroke="#000" stroke-width="0.05">Plant (own rooted)</text>
<text x="413.60" y="995.8" font-size="15.5" font-weight="normal" textLength="126.72" lengthAdjust="spacingAndGlyphs" stroke="#000" stroke-width="0.05">Mist propagated</text>
<text x="407.30" y="1016.3" font-size="15.5" font-weight="normal" textLength="140.20" lengthAdjust="spacingAndGlyphs" stroke="#000" stroke-width="0.05">plant/potted plant</text>
<text x="426.10" y="1039.2" font-size="15.5" font-weight="normal" textLength="101.72" lengthAdjust="spacingAndGlyphs" stroke="#000" stroke-width="0.05">(own rooted)</text>
<text x="579.68" y="1007" font-size="15.5" font-weight="normal" textLength="147.82" lengthAdjust="spacingAndGlyphs" stroke="#000" stroke-width="0.05">Green grafted plant</text>
<text x="581.10" y="1027.5" font-size="15.5" font-weight="normal" textLength="145.68" lengthAdjust="spacingAndGlyphs" stroke="#000" stroke-width="0.05">(dormant or green)</text>
<text x="780.18" y="1007" font-size="15.5" font-weight="normal" textLength="147.82" lengthAdjust="spacingAndGlyphs" stroke="#000" stroke-width="0.05">Green grafted plant</text>
<text x="782.30" y="1027.5" font-size="15.5" font-weight="normal" textLength="145.52" lengthAdjust="spacingAndGlyphs" stroke="#000" stroke-width="0.05">(dormant or green)</text>
<text x="974.68" y="1007" font-size="15.5" font-weight="normal" textLength="147.82" lengthAdjust="spacingAndGlyphs" stroke="#000" stroke-width="0.05">Green grafted plant</text>
<text x="976.10" y="1027.5" font-size="15.5" font-weight="normal" textLength="145.68" lengthAdjust="spacingAndGlyphs" stroke="#000" stroke-width="0.05">(dormant or green)</text>
<circle cx="286.8" cy="195.6" r="5.6" fill="#000"/>
<path d="M700.3,206.6 L719.8,206.6 L719.8,202.6 L714.3,202.6 L714.3,184.2 L708.8,184.2 Q705,187.6 700.8,188.6 L700.8,193.4 Q704.2,192.6 707,191 L707,202.6 L700.3,202.6 Z" fill="#000"/>
<path d="M723.3,201.8 L730,201.8 L730,206 Q728.8,209.8 725.6,211.8 L723.4,211.8 Q725.4,209 725.9,206.6 L723.3,206.6 Z" fill="#000"/>
</svg>
</body></html>
